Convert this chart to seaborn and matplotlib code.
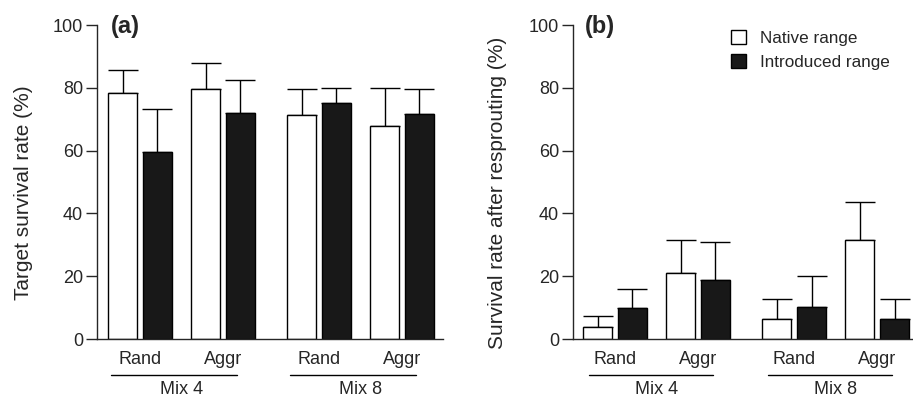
import numpy as np
import pandas as pd
import matplotlib
matplotlib.use("Agg")
import matplotlib.pyplot as plt
import matplotlib.transforms as mtransforms
import seaborn as sns

# ---------------- data ----------------
mixes = ["Mix 4", "Mix 4", "Mix 8", "Mix 8"]
treatments = ["Rand", "Aggr", "Rand", "Aggr"]
range_levels = ["Native range", "Introduced range"]

a_native = [78.4, 79.7, 71.4, 67.8]
a_native_err = [7.2, 8.3, 8.2, 12.2]
a_intro = [59.4, 71.9, 75.1, 71.5]
a_intro_err = [13.9, 10.7, 4.9, 8.2]

b_native = [3.7, 20.9, 6.5, 31.6]
b_native_err = [3.6, 10.5, 6.1, 11.9]
b_intro = [10.0, 18.9, 10.2, 6.5]
b_intro_err = [6.0, 11.9, 9.9, 6.1]

ylabels = ["Target survival rate (%)", "Survival rate after resprouting (%)"]
panel_tags = ["(a)", "(b)"]
yticks = [0, 20, 40, 60, 80, 100]

# ---------------- layout helpers ----------------
mix_gap = 0.157  # extra space between Mix 4 and Mix 8 groups
mix_order = ["Mix 4", "Mix 8"]
positions = [i + mix_gap * mix_order.index(m) for i, m in enumerate(mixes)]


def build_df(native, native_err, intro, intro_err):
    rows = []
    for i in range(len(mixes)):
        rows.append(dict(pos=positions[i], mix=mixes[i], trt=treatments[i],
                         range="Native range", value=native[i], err=native_err[i]))
    for i in range(len(mixes)):
        rows.append(dict(pos=positions[i], mix=mixes[i], trt=treatments[i],
                         range="Introduced range", value=intro[i], err=intro_err[i]))
    return pd.DataFrame(rows)


dfs = [build_df(a_native, a_native_err, a_intro, a_intro_err),
       build_df(b_native, b_native_err, b_intro, b_intro_err)]

# ---------------- figure ----------------
sns.set_style("ticks")
plt.rcParams["font.family"] = ["Liberation Sans", "DejaVu Sans"]
plt.rcParams["axes.linewidth"] = 1.0

W, H = 913, 400
fig = plt.figure(figsize=(W / 100, H / 100), dpi=100)

# axes rectangles in pixels: (left, right), bottom y=339, top y=25
ax_px = [(97, 443), (573, 912)]
xlims = [(-0.518, positions[-1] + 0.494), (-0.506, positions[-1] + 0.42)]
ylabel_x = [-0.185, -0.196]
underline_off = [(-0.35, 0.17), (-0.31, 0.18)]

palette = {"Native range": "white", "Introduced range": "#181818"}

for k, df in enumerate(dfs):
    l, r = ax_px[k]
    ax = fig.add_axes([l / W, 1 - 339 / H, (r - l) / W, (339 - 25) / H])
    sns.barplot(data=df, x="pos", y="value", hue="range", hue_order=range_levels,
                native_scale=True, palette=palette, edgecolor="black",
                linewidth=1.0, width=0.84, gap=0.17, errorbar=None,
                legend=(k == 1), ax=ax, zorder=2)

    # one-sided error bars drawn at the seaborn bar positions
    for p in ax.patches:
        h = p.get_height()
        cx = p.get_x() + p.get_width() / 2
        cand = df[np.isclose(df["value"], h)]
        if cand.empty:
            continue
        row = cand.iloc[(cand["pos"] + 0).sub(cx).abs().argsort().iloc[0]]
        ax.errorbar(cx, h, yerr=[[0], [row["err"]]], fmt="none", ecolor="black",
                    elinewidth=1.0, capsize=11, capthick=1.0, zorder=1)

    ax.set_xlim(*xlims[k])
    ax.set_ylim(0, 100)
    ax.set_yticks(yticks)
    ax.set_yticklabels([str(t) for t in yticks])
    ax.tick_params(axis="y", length=8, width=1.0, labelsize=13, pad=2)
    ax.tick_params(axis="x", length=0, labelsize=13, pad=9)
    ax.set_xticks(positions)
    ax.set_xticklabels(treatments)
    ax.set_xlabel("")
    ax.set_ylabel(ylabels[k], fontsize=15)
    ax.yaxis.set_label_coords(ylabel_x[k], 0.466)
    sns.despine(ax=ax)

    ax.text(0.04 if k == 0 else 0.035, 0.995, panel_tags[k], transform=ax.transAxes,
            fontsize=17, fontweight="bold", ha="left", va="center")

    # group underlines and labels
    trans = mtransforms.blended_transform_factory(ax.transData, ax.transAxes)
    lo, hi = underline_off[k]
    for m in mix_order:
        idx = [i for i, mm in enumerate(mixes) if mm == m]
        x0 = positions[idx[0]] + lo
        x1 = positions[idx[-1]] + hi
        ax.plot([x0, x1], [-0.1146, -0.1146], color="black", lw=1.0,
                transform=trans, clip_on=False)
        ax.text((positions[idx[0]] + positions[idx[-1]]) / 2, -0.16, m,
                transform=trans, ha="center", va="center", fontsize=13)

    if k == 1:
        handles, labels = ax.get_legend_handles_labels()
        ax.legend(handles, labels, loc="upper left",
                  bbox_to_anchor=(731 / W, 1 - 30 / H),
                  bbox_transform=fig.transFigure, frameon=False,
                  fontsize=12.3, handlelength=0.85, handleheight=0.85,
                  handletextpad=0.85, labelspacing=0.5, borderpad=0,
                  borderaxespad=0)

fig.savefig("out.png", dpi=100)
